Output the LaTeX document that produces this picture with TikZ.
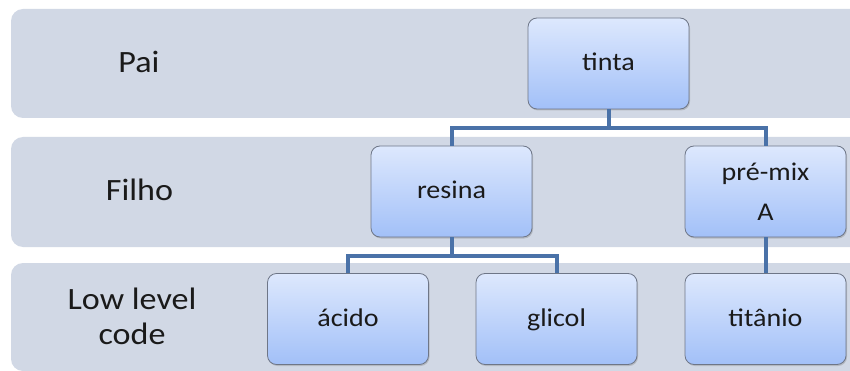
\documentclass[tikz,border=0pt]{standalone}
\usepackage{fontspec}
\setmainfont{Carlito}[FakeStretch=1.1]
\usetikzlibrary{shadows}
\definecolor{bandc}{HTML}{D1D8E5}
\definecolor{boxtop}{HTML}{DDE8FD}
\definecolor{boxbot}{HTML}{A2C0F8}
\definecolor{bordc}{HTML}{6E7687}
\definecolor{linkc}{HTML}{4A72A8}
\definecolor{txtc}{HTML}{1A1A1A}
\tikzset{
  band/.style={fill=bandc, rounded corners=12pt},
  itembox/.style={rounded corners=9pt, draw=bordc, line width=0.8pt,
    top color=boxtop, bottom color=boxbot,
    minimum width=161pt, minimum height=91pt, inner sep=0pt,
    align=center, text=txtc, font=\fontsize{25.5}{40}\selectfont,
    drop shadow={shadow xshift=1pt, shadow yshift=-1.5pt, opacity=0.35}},
  oneline/.style={text height=19pt, text depth=4.6pt},
  level/.style={align=center, text=txtc, inner sep=0pt, font=\fontsize{31}{35}\selectfont},
  link/.style={draw=linkc, line width=4pt}
}
\begin{document}
\begin{tikzpicture}[x=1pt,y=-1pt]
\useasboundingbox (0,0) rectangle (850,371);
\clip (0,0) rectangle (850,371);
\fill[white] (0,0) rectangle (850,371);
\fill[band] (11,9) rectangle (880,118);
\fill[band] (11,137) rectangle (880,247);
\fill[band] (11,263) rectangle (880,371);

\node[level, anchor=base] (pai) at (139,72.7) {Pai};
\node[level, anchor=base] (filho) at (139.5,200.7) {Filho};
\node[level] (low) at (132,316) {Low level\\code};

\node[itembox, oneline] (tinta) at (608.5,63.5) {tinta};
\node[itembox, oneline] (resina) at (451.5,191.5) {resina};
\node[itembox] (premix) at (765.5,191.5) {pré-mix\\A};
\node[itembox, oneline] (acido) at (348,319) {ácido};
\node[itembox, oneline] (glicol) at (556.5,319) {glicol};
\node[itembox, oneline] (titanio) at (765.5,319) {titânio};

\draw[link] (tinta.south) -- ++(0,19) coordinate (j1);
\draw[link] (resina.north) |- (j1) -| (premix.north);
\draw[link] (resina.south) -- ++(0,19) coordinate (j2);
\draw[link] (acido.north) |- (j2) -| (glicol.north);
\draw[link] (premix.south) -- (titanio.north);
\end{tikzpicture}
\end{document}
